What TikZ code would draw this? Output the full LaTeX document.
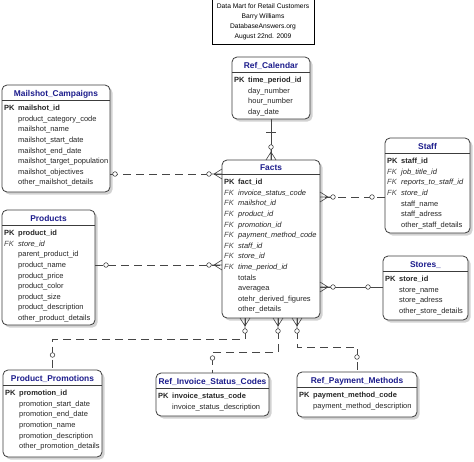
\documentclass[tikz,border=0pt]{standalone}
\usepackage{fontspec}
\setmainfont{Liberation Sans}
\usetikzlibrary{shadows,calc}

\definecolor{hdrblue}{RGB}{28,28,140}
\definecolor{boxline}{RGB}{60,60,60}
\definecolor{relline}{RGB}{70,70,70}

\newcommand{\pkey}[1]{\textbf{PK} & \textbf{#1}}
\newcommand{\fkey}[1]{\textcolor{black!70}{\textit{FK}} & \textit{#1}}

\tikzset{
  entity/.style={draw=boxline, line width=0.8pt, rounded corners=5pt, fill=white,
    inner sep=0pt, outer sep=0pt, anchor=north west,
    drop shadow={shadow xshift=2.5pt, shadow yshift=-2.5pt, fill=black!35}},
  etitle/.style={anchor=base, text=hdrblue, font=\fontsize{8.4}{10}\selectfont\bfseries},
  attrs/.style={anchor=north west, inner sep=0pt, text=black!85,
    font=\fontsize{7.5}{10.6}\selectfont},
  sep/.style={draw=boxline, line width=0.8pt},
  titlebox/.style={draw=black, line width=0.6pt, inner sep=0pt, align=center,
    minimum width=102, minimum height=46, font=\fontsize{6.7}{10}\selectfont},
  rel/.style={draw=relline, line width=0.7pt},
  nonid/.style={rel, dash pattern=on 8pt off 5pt},
  ring/.style={draw=relline, line width=0.6pt, fill=white},
  crow/.pic={
    \draw[relline, line width=0.6pt] (0,0) -- (-14,0) (0,-5) -- (-8,0) -- (0,5);
    \draw[ring] (-13,0) circle (2.3);
  },
}

\begin{document}
\begin{tikzpicture}[x=1pt, y=-1pt]
  \useasboundingbox (0,0) rectangle (474,461);

  \node[titlebox] (title) at (263,21.5) {Data Mart for Retail Customers\\Barry Williams\\DatabaseAnswers.org\\August 22nd. 2009};

  % Ref_Calendar
  \node[entity, minimum width=78, minimum height=62] (cal) at (232,57) {};
  \node[etitle] (cal-t) at ($(cal.north)+(0,11)$) {Ref\_Calendar};
  \draw[sep] ($(cal.north west)+(0,15)$) -- ($(cal.north east)+(0,15)$);
  \node[attrs] (cal-a) at ($(cal.north west)+(2,18)$) {\begin{tabular}{@{}p{14pt}@{}l@{}}
    \pkey{time\_period\_id}\\ & day\_number\\ & hour\_number\\ & day\_date
  \end{tabular}};

  % Mailshot_Campaigns
  \node[entity, minimum width=108, minimum height=107] (mail) at (2,85) {};
  \node[etitle] (mail-t) at ($(mail.north)+(0,11)$) {Mailshot\_Campaigns};
  \draw[sep] ($(mail.north west)+(0,15)$) -- ($(mail.north east)+(0,15)$);
  \node[attrs] (mail-a) at ($(mail.north west)+(2,18)$) {\begin{tabular}{@{}p{14pt}@{}l@{}}
    \pkey{mailshot\_id}\\ & product\_category\_code\\ & mailshot\_name\\
    & mailshot\_start\_date\\ & mailshot\_end\_date\\ & mailshot\_target\_population\\
    & mailshot\_objectives\\ & other\_mailshot\_details
  \end{tabular}};

  % Facts
  \node[entity, minimum width=98, minimum height=158] (facts) at (222,160) {};
  \node[etitle] (facts-t) at ($(facts.north)+(0,10.5)$) {Facts};
  \draw[sep] ($(facts.north west)+(0,14)$) -- ($(facts.north east)+(0,14)$);
  \node[attrs] (facts-a) at ($(facts.north west)+(2,17)$) {\begin{tabular}{@{}p{14pt}@{}l@{}}
    \pkey{fact\_id}\\ \fkey{invoice\_status\_code}\\ \fkey{mailshot\_id}\\
    \fkey{product\_id}\\ \fkey{promotion\_id}\\ \fkey{payment\_method\_code}\\
    \fkey{staff\_id}\\ \fkey{store\_id}\\ \fkey{time\_period\_id}\\
    & totals\\ & averagea\\ & otehr\_derived\_figures\\ & other\_details
  \end{tabular}};

  % Staff
  \node[entity, minimum width=85, minimum height=95] (staff) at (385,138) {};
  \node[etitle] (staff-t) at ($(staff.north)+(0,11)$) {Staff};
  \draw[sep] ($(staff.north west)+(0,15)$) -- ($(staff.north east)+(0,15)$);
  \node[attrs] (staff-a) at ($(staff.north west)+(2,18)$) {\begin{tabular}{@{}p{14pt}@{}l@{}}
    \pkey{staff\_id}\\ \fkey{job\_title\_id}\\ \fkey{reports\_to\_staff\_id}\\
    \fkey{store\_id}\\ & staff\_name\\ & staff\_adress\\ & other\_staff\_details
  \end{tabular}};

  % Products
  \node[entity, minimum width=93, minimum height=115] (prod) at (2,210) {};
  \node[etitle] (prod-t) at ($(prod.north)+(0,11)$) {Products};
  \draw[sep] ($(prod.north west)+(0,15)$) -- ($(prod.north east)+(0,15)$);
  \node[attrs] (prod-a) at ($(prod.north west)+(2,18)$) {\begin{tabular}{@{}p{14pt}@{}l@{}}
    \pkey{product\_id}\\ \fkey{store\_id}\\ & parent\_product\_id\\ & product\_name\\
    & product\_price\\ & product\_color\\ & product\_size\\
    & product\_description\\ & other\_product\_details
  \end{tabular}};

  % Stores_
  \node[entity, minimum width=85, minimum height=64] (store) at (383,256) {};
  \node[etitle] (store-t) at ($(store.north)+(0,11)$) {Stores\_};
  \draw[sep] ($(store.north west)+(0,15)$) -- ($(store.north east)+(0,15)$);
  \node[attrs] (store-a) at ($(store.north west)+(2,18)$) {\begin{tabular}{@{}p{14pt}@{}l@{}}
    \pkey{store\_id}\\ & store\_name\\ & store\_adress\\ & other\_store\_details
  \end{tabular}};

  % Product_Promotions
  \node[entity, minimum width=99, minimum height=87] (promo) at (3,370) {};
  \node[etitle] (promo-t) at ($(promo.north)+(0,11)$) {Product\_Promotions};
  \draw[sep] ($(promo.north west)+(0,15)$) -- ($(promo.north east)+(0,15)$);
  \node[attrs] (promo-a) at ($(promo.north west)+(2,18)$) {\begin{tabular}{@{}p{14pt}@{}l@{}}
    \pkey{promotion\_id}\\ & promotion\_start\_date\\ & promotion\_end\_date\\
    & promotion\_name\\ & promotion\_description\\ & other\_promotion\_details
  \end{tabular}};

  % Ref_Invoice_Status_Codes
  \node[entity, minimum width=113, minimum height=43] (inv) at (156,373) {};
  \node[etitle] (inv-t) at ($(inv.north)+(0,11)$) {Ref\_Invoice\_Status\_Codes};
  \draw[sep] ($(inv.north west)+(0,15)$) -- ($(inv.north east)+(0,15)$);
  \node[attrs] (inv-a) at ($(inv.north west)+(2,18)$) {\begin{tabular}{@{}p{14pt}@{}l@{}}
    \pkey{invoice\_status\_code}\\ & invoice\_status\_description
  \end{tabular}};

  % Ref_Payment_Methods
  \node[entity, minimum width=120, minimum height=45] (pay) at (297,372) {};
  \node[etitle] (pay-t) at ($(pay.north)+(0,11)$) {Ref\_Payment\_Methods};
  \draw[sep] ($(pay.north west)+(0,15)$) -- ($(pay.north east)+(0,15)$);
  \node[attrs] (pay-a) at ($(pay.north west)+(2,18)$) {\begin{tabular}{@{}p{14pt}@{}l@{}}
    \pkey{payment\_method\_code}\\ & payment\_method\_description
  \end{tabular}};

  % relationships into Facts
  \coordinate (r-mail) at (0,174);
  \coordinate (r-prod) at (0,265);
  \coordinate (r-staff) at (0,197);
  \coordinate (r-store) at (0,287);

  \draw[rel] (cal.south) -- (facts.north);
  \draw[rel] ($(cal.south)+(-5,13)$) -- ++(10,0);
  \pic[rotate=-90] at (facts.north) {crow};

  \draw[nonid] (mail.east |- r-mail) -- (facts.west |- r-mail);
  \draw[ring] ($(mail.east |- r-mail)+(5,0)$) circle (2.3);
  \pic at (facts.west |- r-mail) {crow};

  \draw[nonid] (prod.east |- r-prod) -- (facts.west |- r-prod);
  \draw[ring] ($(prod.east |- r-prod)+(11,0)$) circle (2.3);
  \pic at (facts.west |- r-prod) {crow};

  \draw[nonid] (staff.west |- r-staff) -- (facts.east |- r-staff);
  \draw[ring] ($(staff.west |- r-staff)+(-13,0)$) circle (2.3);
  \pic[rotate=180] at (facts.east |- r-staff) {crow};

  \draw[rel] (store.west |- r-store) -- (facts.east |- r-store);
  \draw[ring] ($(store.west |- r-store)+(-15,0)$) circle (2.3);
  \pic[rotate=180] at (facts.east |- r-store) {crow};

  % relationships below Facts
  \coordinate (b-promo) at (245,339);
  \coordinate (b-inv) at (278,352);
  \coordinate (b-pay) at (297,347);

  \draw[nonid] (facts.south -| b-promo) -- (b-promo) -| (promo.north);
  \draw[ring] ($(promo.north)+(0,-15)$) circle (2.3);
  \pic[rotate=90] at (facts.south -| b-promo) {crow};

  \draw[nonid] (facts.south -| b-inv) -- (b-inv) -| (inv.north);
  \draw[ring] ($(inv.north)+(0,-15)$) circle (2.3);
  \pic[rotate=90] at (facts.south -| b-inv) {crow};

  \draw[nonid] (facts.south -| b-pay) -- (b-pay) -| (pay.north);
  \draw[ring] ($(pay.north)+(0,-15)$) circle (2.3);
  \pic[rotate=90] at (facts.south -| b-pay) {crow};
\end{tikzpicture}
\end{document}
